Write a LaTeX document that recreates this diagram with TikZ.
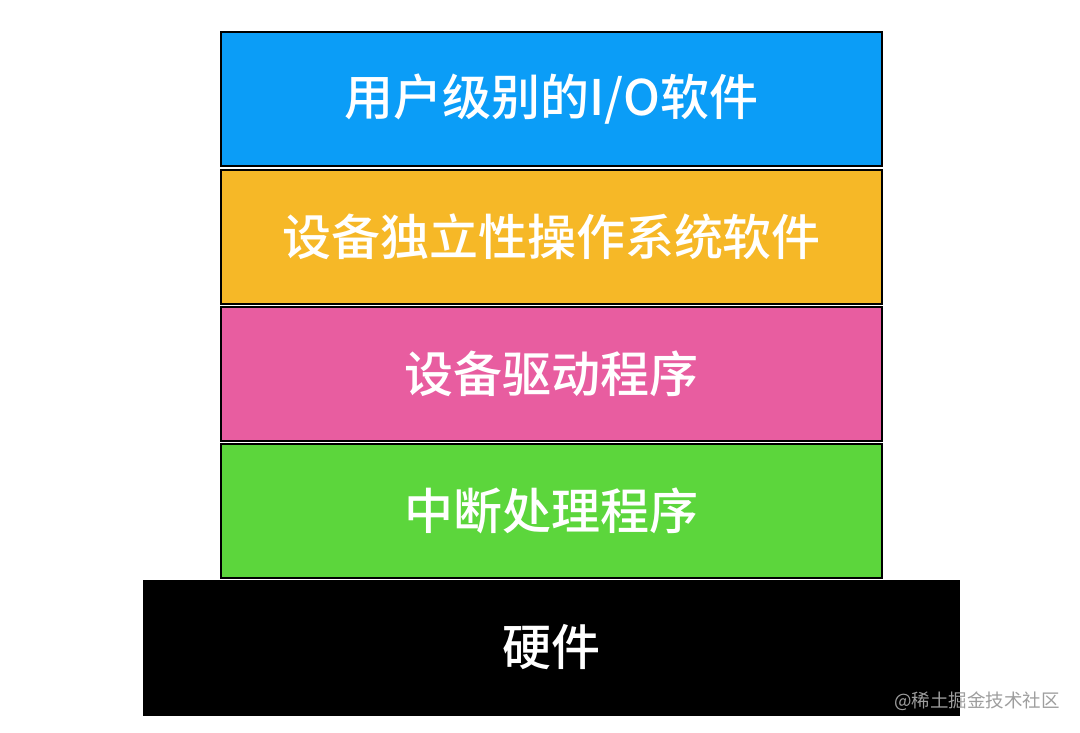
\documentclass[tikz,border=0pt]{standalone}
\usepackage{fontspec}
\newfontfamily\cjk{Noto Sans CJK SC}
\newfontfamily\cjkm{Noto Sans CJK SC Medium}
\usetikzlibrary{positioning}

\definecolor{lblue}{HTML}{0B9DF7}
\definecolor{lyellow}{HTML}{F6B827}
\definecolor{lpink}{HTML}{E85DA0}
\definecolor{lgreen}{HTML}{5CD63C}

\begin{document}
\begin{tikzpicture}[x=1pt, y=-1pt,
    layer/.style={draw=black, line width=2pt, inner sep=0pt,
        minimum width=661pt, minimum height=134pt, text=white,
        font=\cjkm\fontsize{49}{49}\selectfont}]
    \useasboundingbox (0,0) rectangle (1080,733);
    \foreach \n/\y/\c/\t in {1/99/lblue/{用户级别的I/O软件},
            2/237/lyellow/{设备独立性操作系统软件},
            3/373.5/lpink/{设备驱动程序},
            4/510.5/lgreen/{中断处理程序}}
        \node[layer, fill=\c] (l\n) at (551.5, \y) {\t};
    \node[layer, fill=black, minimum width=815pt] (hw) at (551.5, 647.5) {硬件};

    \node[anchor=east, inner sep=0pt, text=black!38,
        font=\cjk\fontsize{18.5}{18.5}\selectfont] (mark) at (1060, 701) {@稀土掘金技术社区};
\end{tikzpicture}
\end{document}
